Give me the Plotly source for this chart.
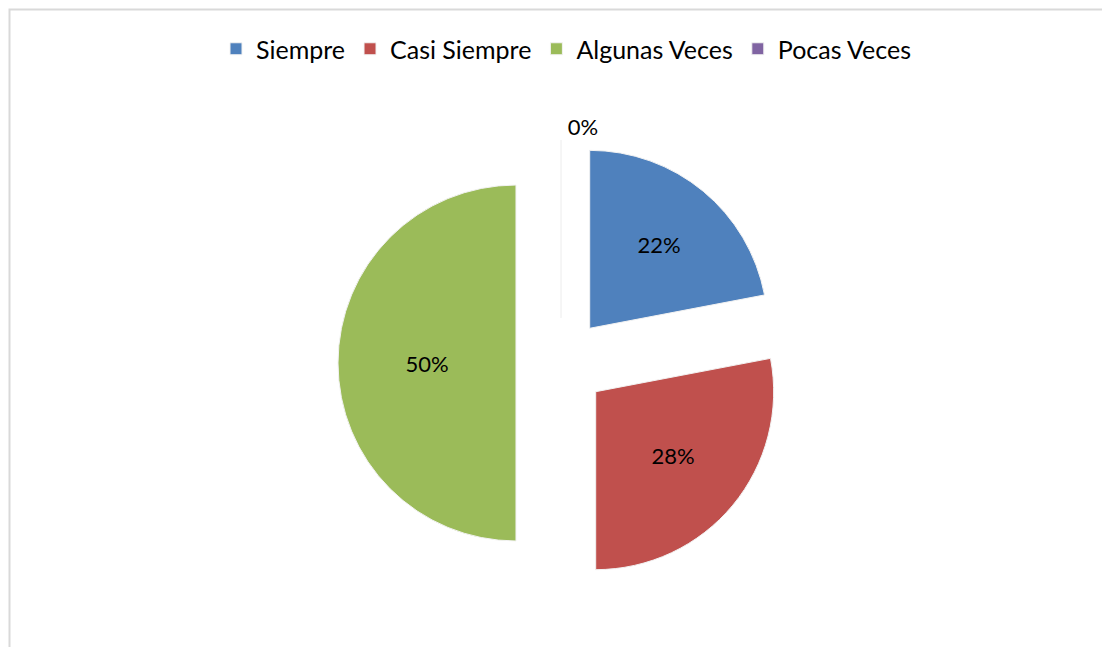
import plotly.graph_objects as go

labels = ["Siempre", "Casi Siempre", "Algunas Veces", "Pocas Veces"]
values = [22, 28, 50, 0]
colors = ["#4F81BD", "#C0504D", "#9BBB59", "#8064A2"]

W, H = 1102, 647
cx, cy, Rt = 561, 363, 223
FONT = "Lato, Open Sans, Liberation Sans, sans-serif"

fig = go.Figure(go.Pie(
    labels=labels,
    values=values,
    sort=False,
    direction="clockwise",
    rotation=0,
    pull=[0.253, 0.253, 0.253, 0.253],
    marker=dict(colors=colors, line=dict(color="#F2F2F2", width=1)),
    textinfo="percent",
    texttemplate="%{percent:.0%}",
    textposition=["inside", "inside", "inside", "outside"],
    insidetextorientation="horizontal",
    textfont=dict(family=FONT, size=22, color="#000000"),
    domain=dict(x=[(cx - Rt) / W, (cx + Rt) / W], y=[1 - (cy + Rt) / H, 1 - (cy - Rt) / H]),
    hoverinfo="label+percent",
))

fig.update_layout(
    width=W, height=H,
    margin=dict(l=0, r=0, t=0, b=0, autoexpand=False),
    paper_bgcolor="white",
    font=dict(family=FONT, size=25, color="#000000"),
    showlegend=True,
    legend=dict(orientation="h", x=566 / W, xanchor="center", y=1 - 49 / H, yanchor="middle",
                font=dict(size=25), traceorder="normal"),
    shapes=[dict(type="rect", xref="paper", yref="paper", x0=9.5 / W, x1=1.05, y0=-0.05, y1=1 - 9.5 / H,
                 line=dict(color="#D9D9D9", width=2), fillcolor="rgba(0,0,0,0)", layer="below")],
)

fig.write_html("out.html", config={"displayModeBar": False},
               post_script="document.body.style.margin='0';")
